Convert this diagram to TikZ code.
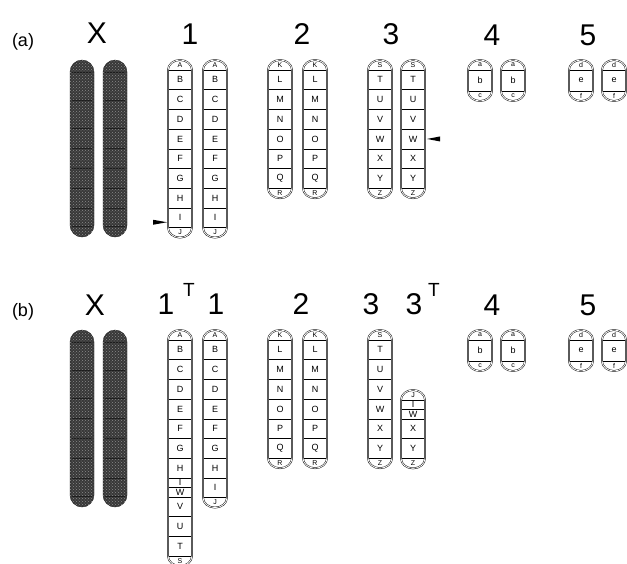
\documentclass[tikz,border=0pt]{standalone}
\usepackage{fontspec}
\setmainfont{Liberation Sans}
\usetikzlibrary{positioning,patterns}

% chromosome: #1 name, #2 top left, #3 top cap, #4 bands (letter/height), #5 bottom cap
\newcommand{\chromo}[5]{%
  \node[capbox, anchor=north west] (#1#3) at #2 {#3};
  \foreach \lab/\len [remember=\lab as \prev (initially #3)] in {#4} {
    \node[bandbox, minimum height=\len, below=0pt of #1\prev] (#1\lab) {\lab};
    \draw[bandline] (#1\lab.north west) -- (#1\lab.north east);
    \coordinate (#1end) at (#1\lab.south);
  }
  \node[capbox, below=0pt of #1end] (#1#5) {#5};
  \draw[bandline] (#1#5.north west) -- (#1#5.north east);
  \draw[outline] (#1#3.south west) arc[start angle=180, end angle=360, x radius=12, y radius=10]
    -- (#1#5.north east) arc[start angle=0, end angle=180, x radius=12, y radius=10] -- cycle;
}

\begin{document}
\begin{tikzpicture}[x=1pt,y=1pt,yscale=-1,xscale=1,
  title/.style={font=\fontsize{30}{30}\selectfont, inner sep=0pt},
  supT/.style={font=\fontsize{19}{19}\selectfont, inner sep=0pt},
  panel/.style={font=\fontsize{18}{18}\selectfont, inner sep=0pt},
  capbox/.style={minimum width=24pt, minimum height=10pt, inner sep=0pt, outer sep=0pt, font=\fontsize{7}{7}\selectfont},
  bandbox/.style={minimum width=24pt, inner sep=0pt, outer sep=0pt, font=\fontsize{9}{9}\selectfont},
  bandline/.style={line width=0.5pt},
  outline/.style={draw, line width=0.45pt, double=white, double distance=0.8pt},
  xbar/.style={rounded corners=12pt, fill=black!78, draw=black!90, postaction={pattern=crosshatch dots, pattern color=black!45}},
  pointer/.style={fill=black}]
\useasboundingbox (0,0) rectangle (627,563);

% X chromosomes
\foreach \x in {70,103} \foreach \y in {60,330} {
  \draw[xbar] (\x,\y) rectangle ++(24,177);
  \foreach \d in {12,40,68,88,108,128,148,166} \draw[black, opacity=.5, line width=.6pt] (\x+2,\y+\d) -- ++(20,0);
}

% Panel (a)
\node[panel] (pa) at (23,42) {(a)};
\node[title] (xa) at (97,33) {X};
\node[title] (n1a) at (190,34) {1};
\node[title] (n2a) at (302,34) {2};
\node[title] (n3a) at (391,34) {3};
\node[title] (n4a) at (492,35) {4};
\node[title] (n5a) at (588,35) {5};

\chromo{c1l}{(168,60)}{A}{B/19.7,C/19.7,D/19.7,E/19.7,F/19.7,G/19.7,H/19.7,I/19.7}{J}
\chromo{c1r}{(203,60)}{A}{B/19.7,C/19.7,D/19.7,E/19.7,F/19.7,G/19.7,H/19.7,I/19.7}{J}
\chromo{c2l}{(268,60)}{K}{L/19.7,M/19.7,N/19.7,O/19.7,P/19.7,Q/19.7}{R}
\chromo{c2r}{(303,60)}{K}{L/19.7,M/19.7,N/19.7,O/19.7,P/19.7,Q/19.7}{R}
\chromo{c3l}{(368,60)}{S}{T/19.7,U/19.7,V/19.7,W/19.7,X/19.7,Y/19.7}{Z}
\chromo{c3r}{(401,60)}{S}{T/19.7,U/19.7,V/19.7,W/19.7,X/19.7,Y/19.7}{Z}
\chromo{c4l}{(468,60)}{a}{b/21}{c}
\chromo{c4r}{(501,60)}{a}{b/21}{c}
\chromo{c5l}{(569,60)}{d}{e/21}{f}
\chromo{c5r}{(602,60)}{d}{e/21}{f}

% Break points
\fill[pointer] ([xshift=-1pt,yshift=4.5pt]c1lI.west) -- ++(-14,-2.5) -- ++(0,5) -- cycle;
\fill[pointer] ([xshift=2pt]c3rW.east) -- ++(13,-2.5) -- ++(0,5) -- cycle;

% Panel (b)
\node[panel] (pb) at (23,312) {(b)};
\node[title] (xb) at (95,305) {X};
\node[title] (n1t) at (166,304) {1};
\node[supT] (t1) at (189,290) {T};
\node[title] (n1b) at (216,304) {1};
\node[title] (n2b) at (301,304) {2};
\node[title] (n3b) at (371,304) {3};
\node[title] (n3t) at (414,304) {3};
\node[supT] (t3) at (434,290) {T};
\node[title] (n4b) at (492,305) {4};
\node[title] (n5b) at (588,305) {5};

\chromo{d1t}{(168,330)}{A}{B/19.7,C/19.7,D/19.7,E/19.7,F/19.7,G/19.7,H/19.7,I/9,W/10,V/19.7,U/19.7,T/19.7}{S}
\chromo{d1}{(203,330)}{A}{B/19.7,C/19.7,D/19.7,E/19.7,F/19.7,G/19.7,H/19.7,I/19.7}{J}
\chromo{d2l}{(268,330)}{K}{L/19.7,M/19.7,N/19.7,O/19.7,P/19.7,Q/19.7}{R}
\chromo{d2r}{(303,330)}{K}{L/19.7,M/19.7,N/19.7,O/19.7,P/19.7,Q/19.7}{R}
\chromo{d3}{(368,330)}{S}{T/19.7,U/19.7,V/19.7,W/19.7,X/19.7,Y/19.7}{Z}
\chromo{d3t}{(401,390)}{J}{I/9,W/10,X/19.7,Y/19.7}{Z}
\chromo{d4l}{(468,330)}{a}{b/21}{c}
\chromo{d4r}{(501,330)}{a}{b/21}{c}
\chromo{d5l}{(569,330)}{d}{e/21}{f}
\chromo{d5r}{(602,330)}{d}{e/21}{f}

\end{tikzpicture}
\end{document}
